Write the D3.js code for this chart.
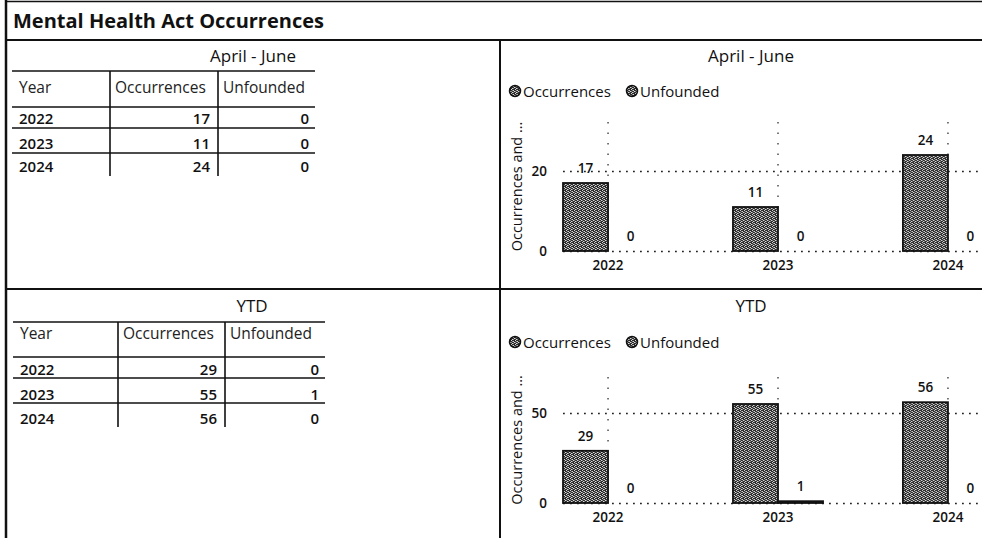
<!DOCTYPE html>
<html><head><meta charset="utf-8">
<script src="https://cdn.jsdelivr.net/npm/d3@7"></script>
<style>
html,body{margin:0;padding:0;background:#fff;}
svg{display:block;font-family:"Open Sans",sans-serif;}
</style></head>
<body>
<svg id="c" width="982" height="538"></svg>
<script>
// ---- data ----
const years = ["2022", "2023", "2024"];
const seriesNames = ["Occurrences", "Unfounded"];
const qOccurrences = [17, 11, 24];
const qUnfounded = [0, 0, 0];
const ytdOccurrences = [29, 55, 56];
const ytdUnfounded = [0, 1, 0];
const qTicks = [0, 20];
const ytdTicks = [0, 50];
const tableHeaders = ["Year", "Occurrences", "Unfounded"];

const svg = d3.select("#c");
const ink = "#111";

// dither pattern for bars (scanned grey look)
const defs = svg.append("defs");
const pat = defs.append("pattern").attr("id","dith").attr("width",4).attr("height",4).attr("patternUnits","userSpaceOnUse");
pat.append("rect").attr("width",4).attr("height",4).attr("fill","#2c2c2c");
[[0,1],[2,0],[1,3],[3,2]].forEach(([px,py])=>
  pat.append("rect").attr("x",px).attr("y",py).attr("width",1).attr("height",1).attr("fill","#d8d8d8"));
[[1,1],[3,0],[0,3]].forEach(([px,py])=>
  pat.append("rect").attr("x",px).attr("y",py).attr("width",1).attr("height",1).attr("fill","#8a8a8a"));

// ---- frame ----
const frame = svg.append("g");
frame.append("line").attr("x1",6).attr("x2",982).attr("y1",1.5).attr("y2",1.5).attr("stroke",ink).attr("stroke-width",1.5);
frame.append("line").attr("x1",6).attr("x2",6).attr("y1",0).attr("y2",538).attr("stroke",ink).attr("stroke-width",2.5);
frame.append("line").attr("x1",6).attr("x2",982).attr("y1",40).attr("y2",40).attr("stroke",ink).attr("stroke-width",2);
frame.append("line").attr("x1",500).attr("x2",500).attr("y1",40).attr("y2",538).attr("stroke",ink).attr("stroke-width",2);
frame.append("line").attr("x1",6).attr("x2",982).attr("y1",289).attr("y2",289).attr("stroke",ink).attr("stroke-width",2);
frame.append("text").attr("x",13).attr("y",27.5).attr("font-size",20).attr("font-weight","bold").attr("fill",ink)
  .text("Mental Health Act Occurrences");

// ---- tables ----
function drawTable(cfg){
  const g = svg.append("g");
  g.append("text").attr("x",cfg.titleX).attr("y",cfg.titleY).attr("text-anchor","middle")
    .attr("font-size",17).attr("fill",ink).text(cfg.title);
  const xs = cfg.cols; // [left, div1, div2, right]
  g.append("line").attr("x1",xs[0]).attr("x2",xs[3]).attr("y1",cfg.top).attr("y2",cfg.top).attr("stroke",ink).attr("stroke-width",1.5);
  g.append("line").attr("x1",xs[0]).attr("x2",xs[3]).attr("y1",cfg.headBottom).attr("y2",cfg.headBottom).attr("stroke",ink).attr("stroke-width",1.5);
  [xs[1], xs[2]].forEach(x=>g.append("line").attr("x1",x).attr("x2",x).attr("y1",cfg.top).attr("y2",cfg.bottom).attr("stroke",ink).attr("stroke-width",1.6));
  const hx = [xs[0]+7, xs[1]+5, xs[2]+5];
  tableHeaders.forEach((h,i)=>g.append("text").attr("x",hx[i]).attr("y",cfg.headY).attr("font-size",15.5).attr("fill","#222").text(h));
  years.forEach((yr,i)=>{
    const by = cfg.rowY[i];
    g.append("text").attr("x",xs[0]+7).attr("y",by).attr("font-size",15).attr("font-weight",600).attr("fill",ink).text(yr);
    g.append("text").attr("x",xs[2]-8).attr("y",by).attr("text-anchor","end").attr("font-size",15).attr("font-weight",600).attr("fill",ink).text(cfg.occ[i]);
    g.append("text").attr("x",xs[3]-6).attr("y",by).attr("text-anchor","end").attr("font-size",15).attr("font-weight",600).attr("fill",ink).text(cfg.unf[i]);
  });
  cfg.rowLines.forEach(ly=>g.append("line").attr("x1",xs[0]).attr("x2",xs[3]).attr("y1",ly).attr("y2",ly).attr("stroke",ink).attr("stroke-width",1.5));
}
drawTable({title:"April - June", titleX:253, titleY:62, cols:[12,110,218,315], top:71, headBottom:107, headY:93,
  bottom:176, rowY:[124,149,172], rowLines:[128,153], occ:qOccurrences, unf:qUnfounded});
drawTable({title:"YTD", titleX:252, titleY:312, cols:[13,118,225,325], top:322, headBottom:357, headY:339,
  bottom:427, rowY:[375,400,424], rowLines:[378,403], occ:ytdOccurrences, unf:ytdUnfounded});

// ---- charts ----
function drawChart(cfg){
  const g = svg.append("g");
  g.append("text").attr("x",751).attr("y",cfg.titleY).attr("text-anchor","middle").attr("font-size",17).attr("fill",ink).text(cfg.title);
  // legend
  const lg = g.append("g").attr("transform",`translate(0,${cfg.legendY})`);
  const legX = [515, 632];
  seriesNames.forEach((s,i)=>{
    lg.append("circle").attr("cx",legX[i]).attr("cy",0).attr("r",5.5).attr("fill","url(#dith)").attr("stroke",ink).attr("stroke-width",1.5);
    lg.append("text").attr("x",legX[i]+8).attr("y",5.5).attr("font-size",15).attr("fill",ink).text(s);
  });

  const y = d3.scaleLinear().domain([0,cfg.yMax]).range([cfg.bottom, cfg.top]);
  const x0 = d3.scaleBand().domain(years).range([563, 993]).paddingInner(0.47).paddingOuter(0);
  const x1 = d3.scaleBand().domain(seriesNames).range([0, x0.bandwidth()]);

  // vertical dotted gridlines at category centres
  g.append("g").selectAll("line").data(years).join("line")
    .attr("x1",d=>x0(d)+x0.bandwidth()/2).attr("x2",d=>x0(d)+x0.bandwidth()/2)
    .attr("y1",cfg.top).attr("y2",cfg.bottom)
    .attr("stroke","#333").attr("stroke-width",1.3).attr("stroke-dasharray","1.5,9");

  // y axis with gridlines
  const ya = g.append("g").attr("transform","translate(563,0)")
    .call(d3.axisLeft(y).tickValues(cfg.ticks).tickSize(-430).tickPadding(16).tickFormat(d3.format("d")));
  ya.select(".domain").remove();
  ya.selectAll(".tick line").attr("stroke","#222").attr("stroke-width",1.7).attr("stroke-dasharray","1.8,5.2");
  ya.selectAll(".tick text").attr("font-size",13.5).attr("font-weight",600).attr("fill",ink).attr("font-family","Open Sans");

  // y axis title
  g.append("text").attr("transform",`translate(522,${(cfg.top+cfg.bottom)/2}) rotate(-90)`)
    .attr("text-anchor","middle").attr("font-size",14.5).attr("fill",ink).text("Occurrences and …");

  // bars
  const data = years.map((yr,i)=>({yr, vals:[{s:seriesNames[0], v:cfg.occ[i]},{s:seriesNames[1], v:cfg.unf[i]}]}));
  const grp = g.append("g").selectAll("g").data(data).join("g").attr("transform",d=>`translate(${x0(d.yr)},0)`);
  grp.selectAll("rect").data(d=>d.vals.filter(v=>v.v>0)).join("rect")
    .attr("x",d=>x1(d.s)).attr("width",x1.bandwidth())
    .attr("y",d=>y(d.v)).attr("height",d=>y(0)-y(d.v))
    .attr("fill","url(#dith)").attr("stroke",ink).attr("stroke-width",1.8);
  grp.selectAll("text").data(d=>d.vals).join("text")
    .attr("x",d=>x1(d.s)+x1.bandwidth()/2).attr("y",d=>y(d.v)-10)
    .attr("text-anchor","middle").attr("font-size",13.5).attr("font-weight",600).attr("fill",ink)
    .text(d=>d.v);

  // x axis
  const xa = g.append("g").attr("transform",`translate(0,${cfg.bottom})`)
    .call(d3.axisBottom(x0).tickSize(0).tickPadding(9));
  xa.select(".domain").remove();
  xa.selectAll(".tick text").attr("font-size",13.5).attr("font-weight",600).attr("fill",ink).attr("font-family","Open Sans");
}
drawChart({title:"April - June", titleY:62, legendY:91, top:122, bottom:251, yMax:32.25, ticks:qTicks, occ:qOccurrences, unf:qUnfounded});
drawChart({title:"YTD", titleY:312, legendY:342, top:377, bottom:503, yMax:70, ticks:ytdTicks, occ:ytdOccurrences, unf:ytdUnfounded});
</script>
</body></html>
